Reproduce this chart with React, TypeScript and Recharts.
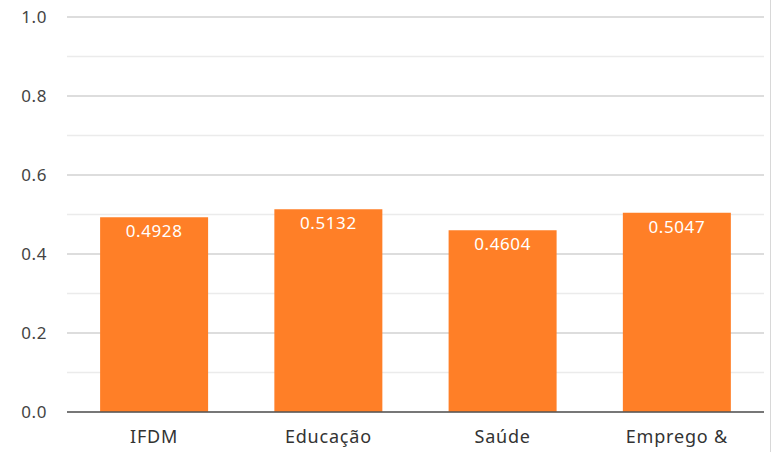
import React from "react";
import {
  BarChart,
  Bar,
  XAxis,
  YAxis,
  CartesianGrid,
  LabelList,
} from "recharts";

const categories = ["IFDM", "Educação", "Saúde", "Emprego &"];
const values = [0.4928, 0.5132, 0.4604, 0.5047];
const yTicks = [0, 0.1, 0.2, 0.3, 0.4, 0.5, 0.6, 0.7, 0.8, 0.9, 1.0];

const data = categories.map((name, i) => ({ name, value: values[i] }));

const FONT = "'Noto Sans', sans-serif";

// major lines every 0.2, lighter minor lines between them
const gridLine = (props: any) => {
  const major = props.index % 2 === 0;
  return (
    <line
      key={props.key}
      x1={props.x1}
      y1={props.y1}
      x2={props.x2}
      y2={props.y2}
      stroke={major ? "#d2d2d2" : "#ebebeb"}
      strokeWidth={1.3}
    />
  );
};

const YTick = (props: any) => {
  const { x, y, payload, index } = props;
  if (index % 2 !== 0) return null;
  return (
    <text
      x={x}
      y={y}
      dy={6}
      textAnchor="end"
      fill="#444"
      fontSize={17}
      fontFamily={FONT}
      letterSpacing={0.6}
    >
      {payload.value.toFixed(1)}
    </text>
  );
};

const App = () => {
  return (
    <div
      style={{
        position: "absolute",
        top: 0,
        left: 0,
        width: 772,
        height: 452,
        background: "#fff",
        fontFamily: FONT,
      }}
    >
      <div
        style={{
          position: "absolute",
          top: 0,
          right: 1,
          width: 1,
          height: 452,
          background: "#d8d8d8",
        }}
      />
      <BarChart
        width={772}
        height={452}
        data={data}
        margin={{ top: 17, right: 8, bottom: 10, left: 0 }}
        barCategoryGap="19%"
      >
        <CartesianGrid vertical={false} horizontal={gridLine} />
        <XAxis
          dataKey="name"
          height={30}
          tickLine={false}
          axisLine={{ stroke: "#555", strokeWidth: 1.5 }}
          tick={{ fill: "#333", fontSize: 18, fontFamily: FONT, letterSpacing: 0.8 }}
          tickMargin={12}
          interval={0}
        />
        <YAxis
          domain={[0, 1]}
          ticks={yTicks}
          interval={0}
          width={67}
          tickLine={false}
          axisLine={false}
          tickSize={0}
          tickMargin={20}
          tick={<YTick />}
        />
        <Bar dataKey="value" fill="#FF7F27" isAnimationActive={false}>
          <LabelList
            dataKey="value"
            position="insideTop"
            offset={8}
            fill="#fff"
            fontSize={17}
            fontFamily={FONT}
            letterSpacing={0.6}
          />
        </Bar>
      </BarChart>
    </div>
  );
};

export default App;
